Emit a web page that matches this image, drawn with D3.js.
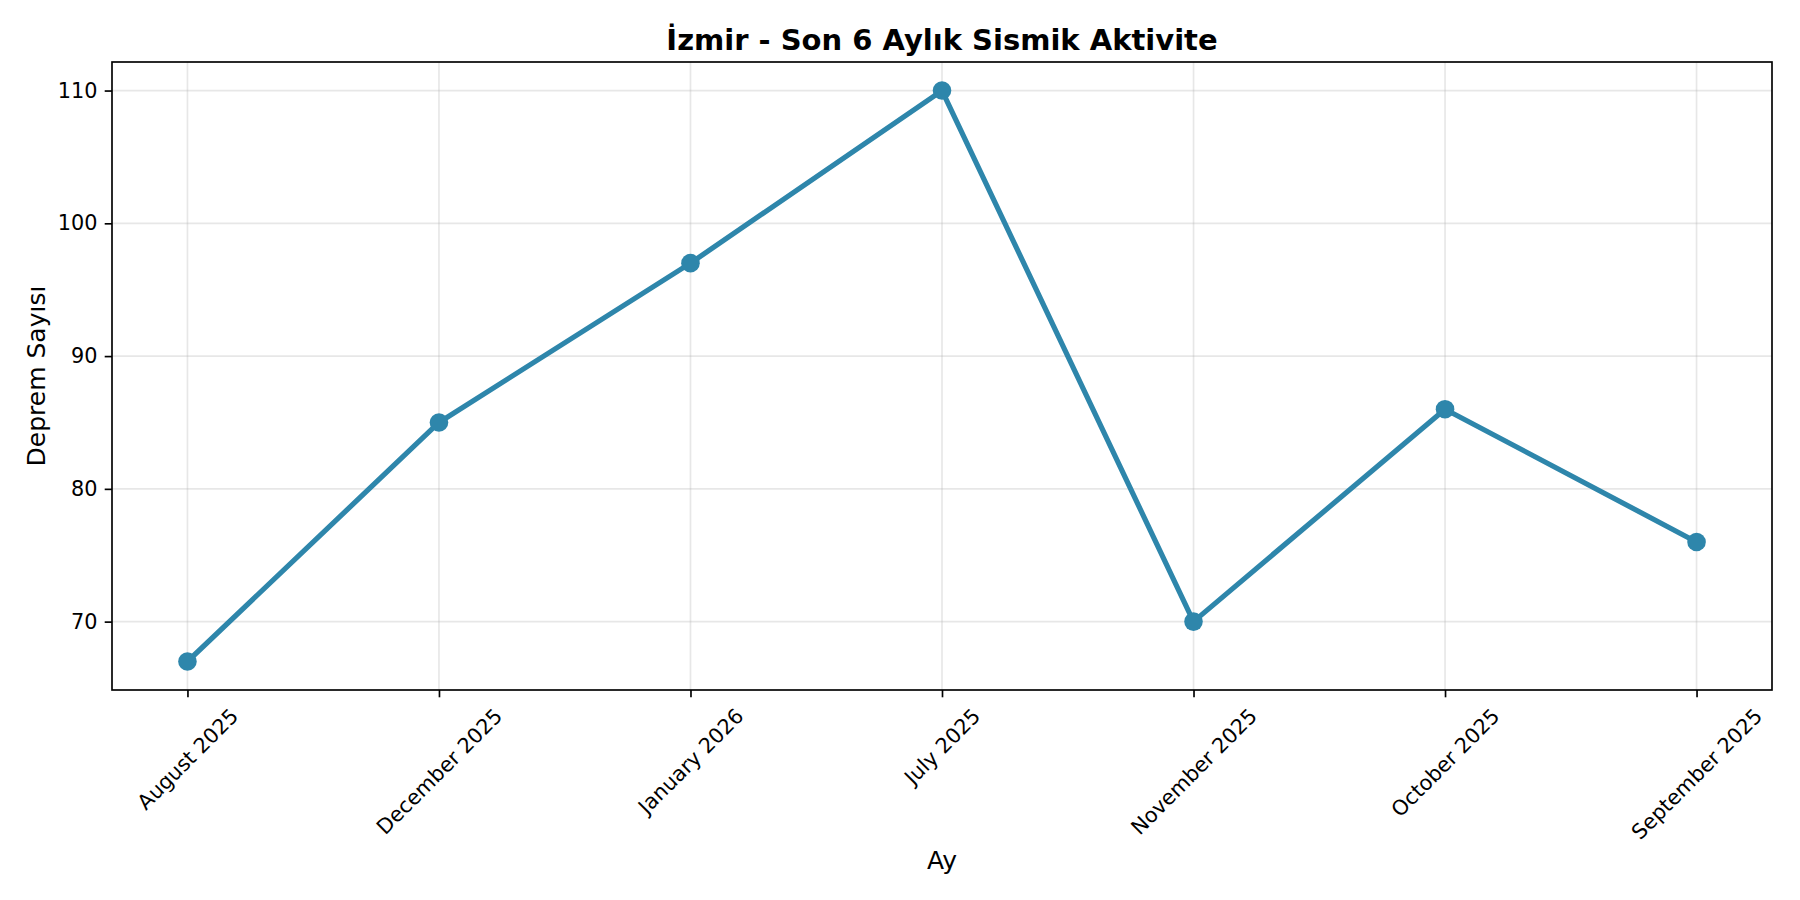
<!DOCTYPE html>
<html>
<head>
<meta charset="utf-8">
<script src="https://cdn.jsdelivr.net/npm/d3@7"></script>
<style>
  body { margin: 0; background: #fff; }
  svg { display: block; font-family: "DejaVu Sans", sans-serif; }
</style>
</head>
<body>
<svg id="chart" width="1800" height="900"></svg>
<script>
// data
var months = ["August 2025", "December 2025", "January 2026", "July 2025",
              "November 2025", "October 2025", "September 2025"]
var counts = [67, 85, 97, 110, 70, 86, 76]
var yTicks = [70, 80, 90, 100, 110]

var W = 1800, H = 900
var margin = {top: 62, right: 28, bottom: 210, left: 112}
var pw = W - margin.left - margin.right
var ph = H - margin.top - margin.bottom

var svg = d3.select('#chart')
var g = svg.append('g').attr('transform', 'translate(' + margin.left + ',' + margin.top + ')')

// matplotlib style 5% padding on both axes
var xPad = (months.length - 1) * 0.05
var x = d3.scaleLinear().domain([-xPad, months.length - 1 + xPad]).range([0, pw])
var yMin = d3.min(counts), yMax = d3.max(counts), yPad = (yMax - yMin) * 0.05
var y = d3.scaleLinear().domain([yMin - yPad, yMax + yPad]).range([ph, 0])

// grid
g.append('g').selectAll('line.gx')
  .data(months).enter().append('line')
  .attr('x1', function(d, i){ return x(i) }).attr('x2', function(d, i){ return x(i) })
  .attr('y1', 0).attr('y2', ph)
  .attr('stroke', '#b0b0b0').attr('stroke-opacity', 0.3).attr('stroke-width', 1.67)
g.append('g').selectAll('line.gy')
  .data(yTicks).enter().append('line')
  .attr('x1', 0).attr('x2', pw)
  .attr('y1', function(d){ return y(d) }).attr('y2', function(d){ return y(d) })
  .attr('stroke', '#b0b0b0').attr('stroke-opacity', 0.3).attr('stroke-width', 1.67)

// axes
var xAxis = d3.axisBottom(x).tickValues(d3.range(months.length))
  .tickFormat(function(i){ return months[i] }).tickSize(7.3).tickPadding(7.3)
var yAxis = d3.axisLeft(y).tickValues(yTicks).tickSize(7.3).tickPadding(7.3)

var gx = g.append('g').attr('transform', 'translate(0,' + ph + ')').call(xAxis)
var gy = g.append('g').call(yAxis)
;[gx, gy].forEach(function(a){
  a.attr('font-family', null).attr('font-size', null)
  a.select('.domain').remove()
  a.selectAll('.tick line').attr('stroke', '#000').attr('stroke-width', 1.67)
  a.selectAll('.tick text').attr('fill', '#000')
    .style('font-family', '"DejaVu Sans", sans-serif').style('font-size', '20.8px')
})

// rotate x labels 45deg, centred on the tick like matplotlib
gx.selectAll('.tick text').each(function(){
  var t = d3.select(this)
  var w = this.getComputedTextLength()
  var hh = (w + 22) * Math.SQRT1_2
  t.attr('y', null).attr('dy', null)
   .attr('text-anchor', 'middle')
   .attr('dominant-baseline', 'central')
   .attr('transform', 'translate(0,' + (14.6 + hh / 2) + ') rotate(-45)')
})

// frame
g.append('rect').attr('width', pw).attr('height', ph)
  .attr('fill', 'none').attr('stroke', '#000').attr('stroke-width', 1.67)

// series
var line = d3.line().x(function(d, i){ return x(i) }).y(function(d){ return y(d) })
g.append('path').datum(counts).attr('d', line)
  .attr('fill', 'none').attr('stroke', '#2E86AB').attr('stroke-width', 5.2)
  .attr('stroke-linejoin', 'round').attr('stroke-linecap', 'square')
g.selectAll('circle.pt').data(counts).enter().append('circle')
  .attr('cx', function(d, i){ return x(i) }).attr('cy', function(d){ return y(d) })
  .attr('r', 9.3).attr('fill', '#2E86AB')

// text
svg.append('text').attr('x', margin.left + pw / 2).attr('y', 50)
  .attr('text-anchor', 'middle').style('font-size', '29px').style('font-weight', 'bold')
  .text('İzmir - Son 6 Aylık Sismik Aktivite')
svg.append('text').attr('x', margin.left + pw / 2).attr('y', 869)
  .attr('text-anchor', 'middle').style('font-size', '25px')
  .text('Ay')
svg.append('text')
  .attr('transform', 'translate(45,' + (margin.top + ph / 2) + ') rotate(-90)')
  .attr('text-anchor', 'middle').style('font-size', '25px')
  .text('Deprem Sayısı')
</script>
</body>
</html>
